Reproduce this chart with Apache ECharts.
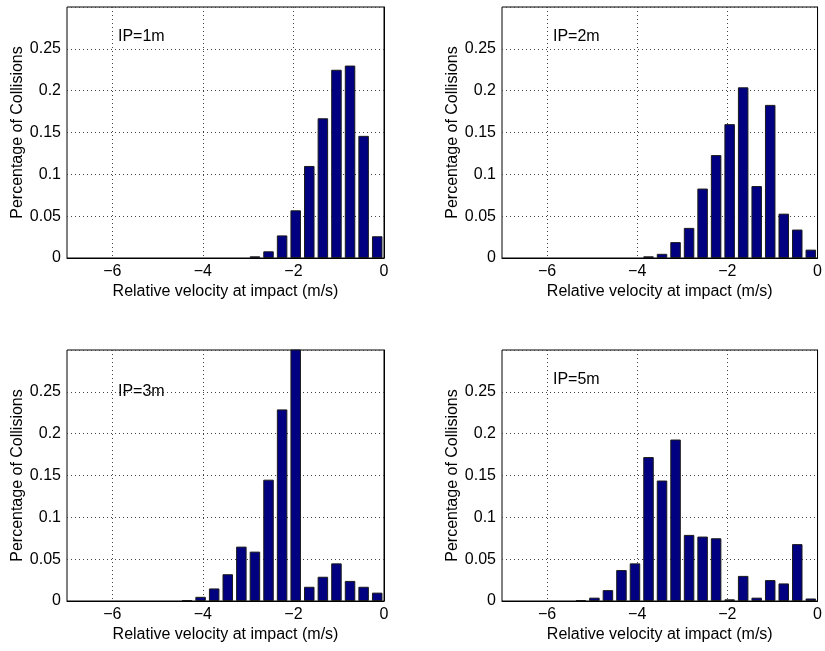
<!DOCTYPE html>
<html style="height: 100%">
<head>
    <meta charset="utf-8">
    <script src="https://cdn.jsdelivr.net/npm/echarts@6/dist/echarts.min.js"></script>
    <title>Relative velocity at impact</title>
</head>
<body style="height: 100%; margin: 0; background: #fff">
<div id="container" style="width: 825px; height: 651px"></div>
<script type="text/javascript">

    // bin centres (m/s), bin width 0.3
    let centers1 = [-2.85, -2.55, -2.25, -1.95, -1.65, -1.35, -1.05, -0.75, -0.45, -0.15]
    let values1 = [0.002, 0.008, 0.027, 0.057, 0.110, 0.167, 0.225, 0.230, 0.146, 0.026]

    let centers2 = [-3.75, -3.45, -3.15, -2.85, -2.55, -2.25, -1.95, -1.65, -1.35, -1.05, -0.75, -0.45, -0.15]
    let values2 = [0.002, 0.005, 0.019, 0.036, 0.083, 0.123, 0.160, 0.204, 0.086, 0.183, 0.053, 0.034, 0.010]

    let centers3 = [-4.35, -4.05, -3.75, -3.45, -3.15, -2.85, -2.55, -2.25, -1.95, -1.65, -1.35, -1.05, -0.75, -0.45, -0.15]
    let values3 = [0.001, 0.005, 0.015, 0.032, 0.065, 0.059, 0.145, 0.229, 0.320, 0.017, 0.029, 0.045, 0.024, 0.017, 0.010]

    let centers4 = [-5.25, -4.95, -4.65, -4.35, -4.05, -3.75, -3.45, -3.15, -2.85, -2.55, -2.25, -1.95, -1.65, -1.35, -1.05, -0.75, -0.45, -0.15]
    let values4 = [0.001, 0.004, 0.013, 0.037, 0.045, 0.172, 0.144, 0.193, 0.079, 0.077, 0.075, 0.002, 0.030, 0.004, 0.025, 0.021, 0.068, 0.003]

    let labels = ['IP=1m', 'IP=2m', 'IP=3m', 'IP=5m']
    let xTicks = [-6, -4, -2, 0]
    let xName = 'Relative velocity at impact (m/s)'
    let yName = 'Percentage of Collisions'

    let panels = [
        {centers: centers1, values: values1, left: 67, top: 7, textY: 37},
        {centers: centers2, values: values2, left: 502, top: 7, textY: 37},
        {centers: centers3, values: values3, left: 67, top: 350, textY: 392},
        {centers: centers4, values: values4, left: 502, top: 350, textY: 380}
    ]

    const font = 'Liberation Sans, Arial, Helvetica, sans-serif'
    const fs = 16
    const dotted = {color: '#444', width: 1, type: [1, 3]}

    let grids = [], xAxes = [], yAxes = [], series = [], texts = []
    panels.forEach(function (p, i) {
        grids.push({left: p.left, top: p.top, width: 317, height: 251,
            show: true, borderColor: '#000', borderWidth: 1, backgroundColor: '#fff'})
        xAxes.push({
            type: 'value', gridIndex: i, min: -7, max: 0,
            name: xName, nameLocation: 'middle', nameGap: 26,
            nameTextStyle: {fontFamily: font, fontSize: fs, color: '#000'},
            axisLine: {lineStyle: {color: '#000', width: 1}},
            axisTick: {show: false, customValues: xTicks},
            axisLabel: {customValues: xTicks, fontFamily: font, fontSize: fs, color: '#000', margin: 6,
                formatter: v => v < 0 ? '\u2212' + (-v) : String(v)},
            splitLine: {show: true, lineStyle: dotted}
        })
        yAxes.push({
            type: 'value', gridIndex: i, min: 0, max: 0.3, interval: 0.05,
            name: yName, nameLocation: 'middle', nameGap: 41,
            nameTextStyle: {fontFamily: font, fontSize: fs, color: '#000'},
            axisLine: {show: true, lineStyle: {color: '#000', width: 1}},
            axisTick: {show: false},
            axisLabel: {fontFamily: font, fontSize: fs, color: '#000', margin: 6,
                formatter: v => v > 0.29 ? '' : String(+v.toFixed(2))},
            splitLine: {show: true, lineStyle: dotted}
        })
        series.push({
            type: 'bar', xAxisIndex: i, yAxisIndex: i,
            data: p.centers.map((c, k) => [c, p.values[k]]),
            barWidth: 10.5, clip: true,
            itemStyle: {color: '#000080', borderColor: '#1a1a1a', borderWidth: 1},
            silent: true
        })
        texts.push({
            type: 'text', x: p.left + 51, y: p.textY, z: 100,
            style: {text: labels[i], font: fs + 'px ' + font, fill: '#000', verticalAlign: 'middle'}
        })
    })

    let chart = echarts.init(document.getElementById('container'))
    chart.setOption({
        animation: false,
        backgroundColor: '#fff',
        grid: grids,
        xAxis: xAxes,
        yAxis: yAxes,
        series: series,
        graphic: texts
    })

</script>
</body>
</html>
